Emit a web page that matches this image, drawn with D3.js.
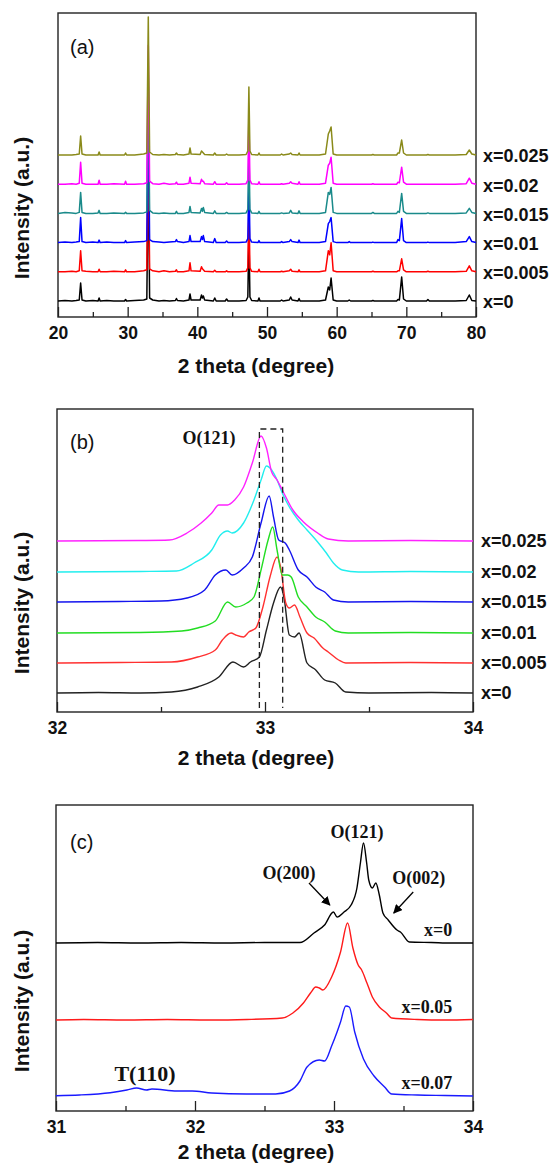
<!DOCTYPE html>
<html>
<head>
<meta charset="utf-8">
<script src="https://cdnjs.cloudflare.com/ajax/libs/d3/7.8.5/d3.min.js"></script>
<style>
  body { margin: 0; background: #fff; }
  svg { display: block; }
</style>
</head>
<body>
<svg id="chart" width="553" height="1163"></svg>
<script>
// ---------- panel (a): full patterns 20-80 deg ----------
var anglesA = [20, 21, 22, 22.6, 23.05, 23.25, 23.45, 24, 25, 25.75,
  25.9, 26.05, 27, 28, 29.55, 29.7, 29.85, 31, 32.3, 32.75,
  32.96, 33.15, 33.6, 34.5, 35.2, 36, 36.85, 37.0, 37.15, 38,
  38.8, 38.95, 39.1, 40.4, 40.6, 40.73, 40.86, 41.05, 42.3, 42.5,
  42.7, 44.0, 44.2, 44.4, 46, 47.0, 47.25, 47.4, 47.55, 47.8,
  48.7, 48.85, 49.0, 50.5, 51.9, 52.1, 52.3, 53.2, 53.4, 53.6,
  54.45, 54.6, 54.75, 56, 57.5, 58.4, 58.8, 59.0, 59.2, 59.5,
  60, 61.6, 61.8, 62.0, 64, 65.0, 65.2, 65.4, 67, 68.6,
  68.8, 69.0, 69.33, 69.6, 70, 71.5, 72.9, 73.1, 73.3, 75,
  77, 78.6, 79.04, 79.4, 80];

var intA_x0 = [1, 1.5, 1, 1.5, 2, 19, 2, 1, 1.5, 1,
  4, 1, 1.5, 1, 1, 2.5, 1, 1.5, 2, 3,
  140, 4, 2, 1, 1.5, 1, 1.5, 3.5, 1.5, 1,
  2, 8, 2, 2, 7, 4, 6, 2, 1, 4,
  1, 1, 3, 1, 1, 1.5, 5, 70, 5, 1.5,
  1, 4, 1, 1, 1, 2, 1, 2, 5, 2,
  1, 3.5, 1, 1, 1, 2, 15, 12, 24, 2,
  1, 1, 2, 1, 1, 1, 1.5, 1, 1, 1,
  2.5, 2, 25, 3, 1, 1, 1, 2.5, 1, 1,
  1, 1.5, 7, 1.5, 1];
var intA_x005 = [1, 1, 1.5, 1, 2, 22, 2, 1.5, 1, 1,
  3.5, 1, 1, 1.5, 1, 3, 1, 1, 2, 3,
  140, 4, 2, 1, 2, 1, 1.5, 3, 1, 1,
  2, 10, 2, 1.5, 6, 4, 3, 1.5, 1, 2.5,
  1, 1, 2, 1, 1, 1.5, 5, 70, 5, 1.5,
  1, 3.5, 1, 1, 1, 1.5, 1, 2, 3.5, 1.5,
  1, 3, 1, 1, 1, 2, 22, 18, 30, 2,
  1, 1, 1, 1, 1, 1, 1.5, 1, 1, 1,
  2, 2, 14, 3, 1, 1, 1, 1.5, 1, 1,
  1, 1.5, 7, 2, 1];
var intA_x01 = [1, 1.5, 1, 1.5, 2, 26, 2, 1, 1.5, 1,
  3.5, 1, 1.5, 1, 1, 3, 1, 1.5, 2, 3,
  140, 4, 2, 1.5, 1, 1.5, 2, 4, 2, 1,
  2, 8, 2, 2, 7, 4, 8, 2, 1, 5,
  1, 1, 2.5, 1, 1, 1.5, 5, 70, 5, 1.5,
  1, 3, 1, 1, 1, 2, 1, 2, 4, 2,
  1, 3.5, 1, 1, 1, 2, 20, 22, 26, 2,
  1, 1, 2, 1, 1, 1, 1.5, 1, 1, 1,
  4, 3, 25, 3, 1, 1, 1, 1.5, 1, 1,
  1, 2, 7, 2, 1];
var intA_x015 = [1, 2, 1.5, 1, 2, 22, 2, 1, 1, 1.5,
  4, 1, 1, 1.5, 1, 2, 1, 1, 1.5, 2.5,
  140, 4, 1.5, 1, 1.5, 1, 1, 3, 1, 1,
  2, 8, 2, 1.5, 6, 3, 7, 2, 1, 3.5,
  1, 1, 2, 1, 1, 1.5, 5, 70, 5, 1.5,
  1, 3, 1, 1, 1, 1.5, 1, 1.5, 4, 1.5,
  1, 3.5, 1, 1, 1, 2, 22, 20, 27, 2,
  1, 1, 1, 1, 1, 1, 2, 1, 1, 1,
  3, 2, 21, 3, 1, 1, 1, 1.5, 1, 1,
  1, 1.5, 6, 2, 1];
var intA_x02 = [1, 1, 1.5, 1, 2, 23, 2, 1, 1, 1,
  5, 1, 1, 1.5, 1, 4, 1, 1, 1.5, 2.5,
  140, 4, 1.5, 1, 2, 1, 1.5, 3, 1, 1,
  2, 8, 2, 1.5, 6, 4, 4, 1.5, 1, 3.5,
  1, 1, 2.5, 1, 1, 1.5, 5, 70, 5, 1.5,
  1, 3.5, 1, 1, 1, 1.5, 1, 2, 3.5, 2,
  1, 3.5, 1, 1, 1, 2, 20, 22, 28, 2,
  1, 1, 1, 1, 1, 1, 1.5, 1, 1, 1,
  3, 2.5, 18, 3, 1, 1, 1, 1, 1, 1,
  1, 1.5, 7, 2, 1];
var intA_x025 = [1, 1, 1, 1.5, 2, 20, 2, 1, 1, 1,
  4, 1, 1, 1, 1, 3, 1, 1, 2, 3,
  139, 4, 1.5, 1, 1.5, 1, 1.5, 3, 1.5, 1,
  2, 8, 2, 1.5, 5, 4, 3, 1.5, 1, 3,
  1, 1, 2, 1, 1, 1.5, 5, 69, 5, 1.5,
  1, 3, 1, 1, 1, 2, 1, 2, 3, 1.5,
  1, 3, 1, 1, 1, 2, 22, 25, 29, 2,
  1, 1, 1, 1, 1, 1, 1.5, 1, 1, 1,
  3, 3, 16, 3, 1, 1, 1, 1.5, 1, 1,
  1, 1.5, 6, 2, 1];

var labelsA = ["x=0", "x=0.005", "x=0.01", "x=0.015", "x=0.02", "x=0.025"];
var offsetsA = [0, 29.2, 58.4, 87.6, 116.8, 146];
var colorsA = ["#000000", "#ff0000", "#0000ff", "#1a8a8a", "#ff00ff", "#8a8a1a"];
var seriesA = [intA_x0, intA_x005, intA_x01, intA_x015, intA_x02, intA_x025];

// ---------- panel (b): O(121) region, [2theta, intensity] ----------
var peakB_x0 = [[32.0, 0], [32.2, 0.5], [32.4, 0], [32.55, 1], [32.676, 6], [32.778, 16],
  [32.846, 31], [32.897, 26], [32.93, 31], [32.973, 36], [33.007, 63], [33.041, 90],
  [33.075, 106], [33.091, 96], [33.117, 58], [33.142, 56], [33.164, 60], [33.202, 30],
  [33.244, 23], [33.287, 13], [33.338, 10], [33.388, 1], [33.5, 0], [33.8, 0.5], [34, 0]];
var peakB_x005 = [[32.0, 0], [32.3, 0.5], [32.55, 1], [32.676, 6], [32.761, 13], [32.795, 23],
  [32.837, 30], [32.859, 28], [32.897, 26], [32.922, 31], [32.956, 35], [32.99, 56],
  [33.024, 86], [33.058, 106], [33.075, 96], [33.1, 60], [33.117, 55], [33.142, 58],
  [33.168, 46], [33.202, 30], [33.236, 25], [33.278, 15], [33.304, 11], [33.354, 3],
  [33.388, 0], [33.7, 0.5], [34, 0]];
var peakB_x01 = [[32.0, 0], [32.4, 0.5], [32.6, 2], [32.676, 5], [32.761, 12], [32.82, 31],
  [32.859, 26], [32.913, 30], [32.947, 36], [32.981, 63], [33.015, 93], [33.037, 106],
  [33.058, 83], [33.083, 58], [33.109, 58], [33.126, 56], [33.16, 36], [33.202, 26],
  [33.244, 16], [33.287, 11], [33.338, 2], [33.4, 0], [33.7, 0.5], [34, 0]];
var peakB_x015 = [[32.0, 0], [32.3, 0.5], [32.5, 1], [32.625, 4], [32.71, 12], [32.761, 27],
  [32.812, 32], [32.842, 27], [32.897, 34], [32.939, 45], [32.981, 79], [33.02, 106],
  [33.041, 85], [33.066, 62], [33.097, 59], [33.117, 52], [33.16, 32], [33.202, 25],
  [33.244, 15], [33.287, 10], [33.329, 2], [33.4, 0], [33.7, 0.5], [34, 0]];
var peakB_x02 = [[32.0, 0], [32.4, 0.5], [32.574, 1], [32.659, 9], [32.744, 22], [32.786, 37],
  [32.82, 41], [32.842, 39], [32.897, 49], [32.947, 72], [32.981, 92], [33.007, 106],
  [33.032, 102], [33.058, 92], [33.083, 79], [33.117, 65], [33.16, 52], [33.202, 42],
  [33.253, 30], [33.295, 19], [33.329, 9], [33.372, 2], [33.45, 0], [33.7, 0.5], [34, 0]];
var peakB_x025 = [[32.0, 0], [32.4, 0.5], [32.54, 1], [32.625, 8], [32.693, 18], [32.744, 28],
  [32.778, 36], [32.82, 36], [32.854, 41], [32.897, 54], [32.939, 78], [32.981, 105],
  [33.007, 93], [33.032, 69], [33.058, 61], [33.083, 51], [33.134, 31], [33.185, 19],
  [33.253, 8], [33.304, 2], [33.4, 0], [33.7, 0.5], [34, 0]];

var labelsB = ["x=0", "x=0.005", "x=0.01", "x=0.015", "x=0.02", "x=0.025"];
var offsetsB = [0, 30, 60, 91, 121, 152];
var colorsB = ["#222222", "#ff3030", "#22dd22", "#1414ee", "#22eeee", "#ff22ff"];
var seriesB = [peakB_x0, peakB_x005, peakB_x01, peakB_x015, peakB_x02, peakB_x025];
var shiftWindowB = [32.973, 33.085];   // dashed box, 2theta
var shiftWindowTopB = 264;

// ---------- panel (c): higher doping ----------
var peakC_x0 = [[31, 0], [31.3, 0.5], [31.6, 0], [31.9, 0.5], [32.2, 0], [32.5, 0.5],
  [32.755, 0.5], [32.856, 10], [32.932, 18], [32.996, 31], [33.022, 26], [33.072, 31],
  [33.123, 38], [33.165, 55], [33.19, 80], [33.212, 100], [33.235, 80], [33.25, 63],
  [33.276, 55], [33.301, 60], [33.326, 48], [33.352, 30], [33.39, 23], [33.453, 13],
  [33.478, 11], [33.542, 1], [33.7, 0.5], [33.85, 0], [34, 0]];
var peakC_x05 = [[31, 0], [31.2, 0.5], [31.5, 0], [31.8, 0.5], [32.1, 0], [32.374, 0.5],
  [32.628, 2], [32.704, 7], [32.78, 17], [32.831, 27], [32.869, 33], [32.894, 32],
  [32.92, 30], [32.983, 43], [33.047, 68], [33.098, 97], [33.136, 72], [33.174, 55],
  [33.199, 50], [33.237, 37], [33.276, 23], [33.326, 13], [33.377, 7], [33.415, 2],
  [33.6, 0.5], [33.8, 0], [34, 0.5]];
var peakC_x07 = [[31, 0.3], [31.17, 1], [31.39, 3.3], [31.51, 6], [31.58, 8], [31.65, 6],
  [31.69, 7], [31.87, 5], [31.98, 5], [32.12, 3], [32.37, 2], [32.58, 2], [32.68, 5],
  [32.755, 15], [32.806, 29], [32.894, 36], [32.932, 35], [32.983, 50], [33.022, 64],
  [33.047, 74], [33.085, 90], [33.11, 89], [33.149, 64], [33.212, 37], [33.288, 20],
  [33.364, 9], [33.415, 2], [33.6, 1], [33.8, 0.5], [34, 0]];

var labelsC = ["x=0", "x=0.05", "x=0.07"];
var offsetsC = [153, 76, 0];
var colorsC = ["#000000", "#ff1a1a", "#1a1aff"];
var seriesC = [peakC_x0, peakC_x05, peakC_x07];

// reflections marked in (c): [label, 2theta, intensity incl. offset]
var reflC = [["O(121)", 33.165, 264], ["O(200)", 32.676, 223], ["O(002)", 33.61, 218]];
var arrowsC = [[32.82, 213, 32.97, 191], [33.57, 204, 33.43, 183]];
var tetraC = ["T(110)", 31.64, 23];

var SANS = "'Liberation Sans', Arial, sans-serif";
var SERIF = "'Liberation Serif', 'Times New Roman', serif";

var svg = d3.select("#chart");
var defs = svg.append("defs");
defs.append("marker")
    .attr("id", "arrowHead")
    .attr("viewBox", "0 0 10 10")
    .attr("refX", 9)
    .attr("refY", 5)
    .attr("markerWidth", 9)
    .attr("markerHeight", 9)
    .attr("markerUnits", "userSpaceOnUse")
    .attr("orient", "auto")
    .append("path")
    .attr("d", "M0,0 L10,5 L0,10 z")
    .attr("fill", "#000");

function drawFrame(box, xDomain, yDomain, majors, minors, tag, titleY, yTitleMid) {
    var x = d3.scaleLinear().domain(xDomain).range([box.left, box.right]);
    var y = d3.scaleLinear().domain(yDomain).range([box.bottom, box.top]);
    var g = svg.append("g");

    var major = g.append("g")
        .attr("transform", "translate(0," + box.bottom + ")")
        .call(d3.axisBottom(x).tickValues(majors).tickSizeInner(-10).tickSizeOuter(0)
            .tickPadding(10).tickFormat(d3.format("d")));
    major.select(".domain").remove();
    major.selectAll("line").attr("stroke", "#222").attr("stroke-width", 1.3);
    major.selectAll("text")
        .attr("font-family", SANS)
        .attr("font-size", "17.5px")
        .attr("font-weight", "bold")
        .attr("fill", "#111");

    var minor = g.append("g")
        .attr("transform", "translate(0," + box.bottom + ")")
        .call(d3.axisBottom(x).tickValues(minors).tickSizeInner(-5).tickSizeOuter(0).tickFormat(""));
    minor.select(".domain").remove();
    minor.selectAll("line").attr("stroke", "#222").attr("stroke-width", 1.3);

    g.append("rect")
        .attr("x", box.left)
        .attr("y", box.top)
        .attr("width", box.right - box.left)
        .attr("height", box.bottom - box.top)
        .attr("fill", "none")
        .attr("stroke", "#222")
        .attr("stroke-width", 1.4);

    g.append("text")
        .attr("x", 70)
        .attr("y", tag.y)
        .attr("dy", "0.35em")
        .attr("font-family", SANS)
        .attr("font-size", "20px")
        .attr("fill", "#111")
        .text(tag.text);

    g.append("text")
        .attr("x", 256)
        .attr("y", titleY)
        .attr("dy", "0.35em")
        .attr("text-anchor", "middle")
        .attr("font-family", SANS)
        .attr("font-size", "21px")
        .attr("font-weight", "bold")
        .attr("fill", "#111")
        .text("2 theta (degree)");

    g.append("text")
        .attr("transform", "translate(22," + yTitleMid + ") rotate(-90)")
        .attr("dy", "0.35em")
        .attr("text-anchor", "middle")
        .attr("font-family", SANS)
        .attr("font-size", "21px")
        .attr("font-weight", "bold")
        .attr("fill", "#111")
        .text("Intensity (a.u.)");

    return { x: x, y: y, g: g };
}

// ---- (a)
var pa = drawFrame({ left: 58, right: 476, top: 13, bottom: 317 }, [20, 80], [-15, 289],
    [20, 30, 40, 50, 60, 70, 80], [25, 35, 45, 55, 65, 75], { text: "(a)", y: 47 }, 366, 208);
var lineA = d3.line().x(d => pa.x(d[0])).y(d => pa.y(d[1]));
seriesA.forEach(function (vals, i) {
    var pts = anglesA.map((a, j) => [a, vals[j] + offsetsA[i]]);
    pa.g.append("path")
        .datum(pts)
        .attr("d", lineA)
        .attr("fill", "none")
        .attr("stroke", colorsA[i])
        .attr("stroke-width", 1.5)
        .attr("stroke-linejoin", "round");
});
pa.g.selectAll(".lblA")
    .data(labelsA)
    .enter().append("text")
    .attr("x", 483)
    .attr("y", (d, i) => pa.y(offsetsA[i]))
    .attr("dy", "0.35em")
    .attr("font-family", SANS)
    .attr("font-size", "18px")
    .attr("font-weight", "bold")
    .attr("fill", "#111")
    .text(d => d);

// ---- (b)
var pb = drawFrame({ left: 57, right: 473, top: 409, bottom: 712 }, [32, 34], [-19, 284],
    [32, 33, 34], [32.5, 33.5], { text: "(b)", y: 442 }, 758, 603);
var lineB = d3.line().curve(d3.curveMonotoneX).x(d => pb.x(d[0])).y(d => pb.y(d[1]));
seriesB.forEach(function (pts, i) {
    pb.g.append("path")
        .datum(pts.map(p => [p[0], p[1] + offsetsB[i]]))
        .attr("d", lineB)
        .attr("fill", "none")
        .attr("stroke", colorsB[i])
        .attr("stroke-width", 1.4);
});
pb.g.append("path")
    .attr("d", "M" + pb.x(shiftWindowB[0]) + "," + pb.y(-15) +
        "V" + pb.y(shiftWindowTopB) + "H" + pb.x(shiftWindowB[1]) + "V" + pb.y(-15))
    .attr("fill", "none")
    .attr("stroke", "#222")
    .attr("stroke-width", 1.3)
    .attr("stroke-dasharray", "6,4");
pb.g.append("text")
    .attr("x", 209)
    .attr("y", 438)
    .attr("dy", "0.35em")
    .attr("text-anchor", "middle")
    .attr("font-family", SERIF)
    .attr("font-size", "18px")
    .attr("font-weight", "bold")
    .attr("fill", "#111")
    .text("O(121)");
pb.g.selectAll(".lblB")
    .data(labelsB)
    .enter().append("text")
    .attr("x", 481)
    .attr("y", (d, i) => pb.y(offsetsB[i]))
    .attr("dy", "0.35em")
    .attr("font-family", SANS)
    .attr("font-size", "18px")
    .attr("font-weight", "bold")
    .attr("fill", "#111")
    .text(d => d);

// ---- (c)
var pc = drawFrame({ left: 56, right: 473, top: 805, bottom: 1111 }, [31, 34], [-15, 291],
    [31, 32, 33, 34], [31.5, 32.5, 33.5], { text: "(c)", y: 842 }, 1152, 1001);
var lineC = d3.line().curve(d3.curveMonotoneX).x(d => pc.x(d[0])).y(d => pc.y(d[1]));
seriesC.forEach(function (pts, i) {
    pc.g.append("path")
        .datum(pts.map(p => [p[0], p[1] + offsetsC[i]]))
        .attr("d", lineC)
        .attr("fill", "none")
        .attr("stroke", colorsC[i])
        .attr("stroke-width", 1.4);
});
pc.g.selectAll(".lblC")
    .data(labelsC)
    .enter().append("text")
    .attr("x", pc.x(33.85))
    .attr("y", (d, i) => pc.y(offsetsC[i] + 13))
    .attr("dy", "0.35em")
    .attr("text-anchor", "end")
    .attr("font-family", SERIF)
    .attr("font-size", "18px")
    .attr("font-weight", "bold")
    .attr("fill", "#111")
    .text(d => d);
pc.g.selectAll(".refl")
    .data(reflC)
    .enter().append("text")
    .attr("x", d => pc.x(d[1]))
    .attr("y", d => pc.y(d[2]))
    .attr("dy", "0.35em")
    .attr("text-anchor", "middle")
    .attr("font-family", SERIF)
    .attr("font-size", "18px")
    .attr("font-weight", "bold")
    .attr("fill", "#111")
    .text(d => d[0]);
pc.g.selectAll(".arr")
    .data(arrowsC)
    .enter().append("line")
    .attr("x1", d => pc.x(d[0]))
    .attr("y1", d => pc.y(d[1]))
    .attr("x2", d => pc.x(d[2]))
    .attr("y2", d => pc.y(d[3]))
    .attr("stroke", "#000")
    .attr("stroke-width", 1.3)
    .attr("marker-end", "url(#arrowHead)");
pc.g.append("text")
    .attr("x", pc.x(tetraC[1]))
    .attr("y", pc.y(tetraC[2]))
    .attr("dy", "0.35em")
    .attr("text-anchor", "middle")
    .attr("font-family", SERIF)
    .attr("font-size", "22px")
    .attr("font-weight", "bold")
    .attr("fill", "#111")
    .text(tetraC[0]);
</script>
</body>
</html>
